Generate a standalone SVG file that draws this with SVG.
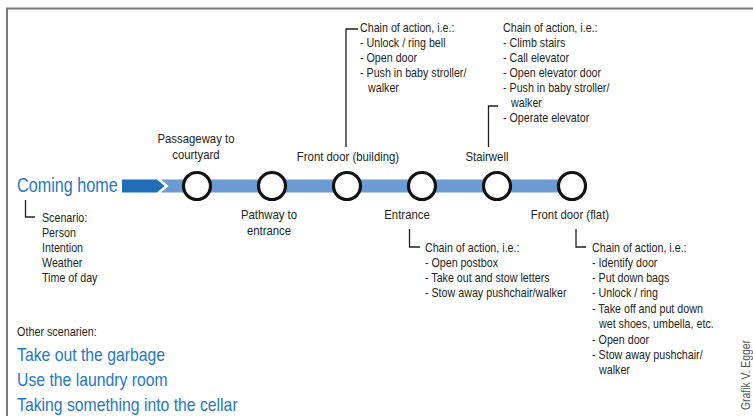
<svg xmlns="http://www.w3.org/2000/svg" width="753" height="416" viewBox="0 0 753 416">
<style>
text{font-family:"Liberation Sans",Arial,sans-serif;fill:#231f20}
.lbl{font-size:13.7px;text-anchor:middle}
.sm{font-size:12.9px}
.blue{fill:#2677c4}
.big{font-size:19.5px}
.sc{font-size:19px}
.conn{fill:none;stroke:#231f20;stroke-width:1.3}
.node circle{fill:#fff;stroke:#111;stroke-width:3.2}
</style>
<rect width="753" height="416" fill="#fff"/>
<path d="M7 416 V8.5 H753" fill="none" stroke="#7a7a7a" stroke-width="2"/>

<g id="track">
<polygon points="122,179.5 157,179.5 164.5,186 157,192.5 122,192.5" fill="#1e6db6"/>
<polygon points="161,179.5 572,179.5 572,192.5 161,192.5 168.5,186" fill="#6c9bd3"/>
</g>

<g id="connectors">
<path class="conn" d="M358 29 H346 V147"/>
<path class="conn" d="M498 106 H488.5 V147"/>
<path class="conn" d="M409.5 229 V247 H420"/>
<path class="conn" d="M576 229 V247 H586"/>
<path class="conn" d="M25.5 200 V217 H35"/>
</g>

<g id="start">
<g transform="scale(0.83 1)">
<text class="blue big" x="20.5" y="192">Coming home</text>
<text class="sm" x="50.6" y="222">Scenario:</text>
<text class="sm" x="50.6" y="237">Person</text>
<text class="sm" x="50.6" y="252">Intention</text>
<text class="sm" x="50.6" y="267">Weather</text>
<text class="sm" x="50.6" y="282">Time of day</text>
</g>
</g>

<g id="n1" class="node">
<circle cx="197" cy="186" r="13.5"/>
<g transform="scale(0.83 1)">
<text class="lbl" x="236.1" y="143">Passageway to</text>
<text class="lbl" x="236.1" y="159">courtyard</text>
</g>
</g>
<g id="n2" class="node">
<circle cx="272" cy="186" r="13.5"/>
<g transform="scale(0.83 1)">
<text class="lbl" x="324.1" y="219">Pathway to</text>
<text class="lbl" x="324.1" y="235">entrance</text>
</g>
</g>
<g id="n3" class="node">
<circle cx="347" cy="186" r="13.5"/>
<g transform="scale(0.83 1)">
<text class="lbl" x="419.3" y="161">Front door (building)</text>
<text class="sm" x="433.7" y="32">Chain of action, i.e.:</text>
<text class="sm" x="433.7" y="47">- Unlock / ring bell</text>
<text class="sm" x="433.7" y="62">- Open door</text>
<text class="sm" x="433.7" y="77">- Push in baby stroller/</text>
<text class="sm" x="443.4" y="92">walker</text>
</g>
</g>
<g id="n4" class="node">
<circle cx="422" cy="186" r="13.5"/>
<g transform="scale(0.83 1)">
<text class="lbl" x="490.4" y="219">Entrance</text>
<text class="sm" x="512" y="252">Chain of action, i.e.:</text>
<text class="sm" x="512" y="267">- Open postbox</text>
<text class="sm" x="512" y="282">- Take out and stow letters</text>
<text class="sm" x="512" y="297">- Stow away pushchair/walker</text>
</g>
</g>
<g id="n5" class="node">
<circle cx="497" cy="186" r="13.5"/>
<g transform="scale(0.83 1)">
<text class="lbl" x="586.7" y="161">Stairwell</text>
<text class="sm" x="606" y="32">Chain of action, i.e.:</text>
<text class="sm" x="606" y="47">- Climb stairs</text>
<text class="sm" x="606" y="62">- Call elevator</text>
<text class="sm" x="606" y="77">- Open elevator door</text>
<text class="sm" x="606" y="92">- Push in baby stroller/</text>
<text class="sm" x="615.7" y="107">walker</text>
<text class="sm" x="606" y="122">- Operate elevator</text>
</g>
</g>
<g id="n6" class="node">
<circle cx="572" cy="186" r="13.5"/>
<g transform="scale(0.83 1)">
<text class="lbl" x="686.7" y="219">Front door (flat)</text>
<text class="sm" x="713.3" y="252">Chain of action, i.e.:</text>
<text class="sm" x="713.3" y="267">- Identify door</text>
<text class="sm" x="713.3" y="282">- Put down bags</text>
<text class="sm" x="713.3" y="297">- Unlock / ring</text>
<text class="sm" x="713.3" y="313">- Take off and put down</text>
<text class="sm" x="721.7" y="328">wet shoes, umbella, etc.</text>
<text class="sm" x="713.3" y="344">- Open door</text>
<text class="sm" x="713.3" y="359">- Stow away pushchair/</text>
<text class="sm" x="721.7" y="374">walker</text>
</g>
</g>

<g id="others">
<g transform="scale(0.83 1)">
<text x="20.5" y="336" style="font-size:13px">Other scenarien:</text>
<text class="blue sc" x="20.5" y="361">Take out the garbage</text>
<text class="blue sc" x="20.5" y="386">Use the laundry room</text>
<text class="blue sc" x="20.5" y="411">Taking something into the cellar</text>
</g>
</g>

<text x="0" y="0" transform="translate(750 410) rotate(-90)" textLength="70" lengthAdjust="spacingAndGlyphs" style="font-size:12px;fill:#555">Grafik V. Egger</text>
</svg>
